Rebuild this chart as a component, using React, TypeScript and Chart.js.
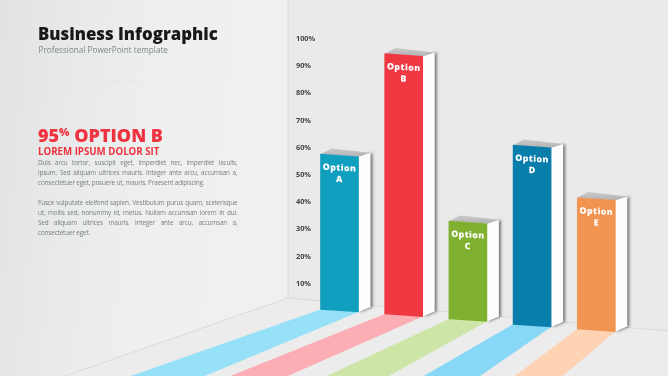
import React, { useEffect, useRef } from "react";
import { Chart, BarController, BarElement, CategoryScale, LinearScale } from "chart.js";

const categories = ["Option A", "Option B", "Option C", "Option D", "Option E"];
const topValues = [57.6, 94.5, 33, 60.9, 41.6];
const baseValues = [0.6, -1.1, -2.9, -4.9, -6.6];
const barColors = ["#119fc0", "#ef3842", "#7fb02f", "#0a7eab", "#f29451"];
const stripeColors = ["#96e1f7", "#fdaeb4", "#cde6a8", "#87d7f7", "#fdd3b4"];
const stripeSlants = [[2.85, 2.4], [2.49, 2.27], [2.14, 1.8], [1.73, 1.45], [1.33, 1.18]];
const firstParagraph = [
  "Duis arcu tortor, suscipit eget, imperdiet nec, imperdiet iaculis,",
  "ipsum. Sed aliquam ultrices mauris. Integer ante arcu, accumsan a,",
  "consectetuer eget, posuere ut, mauris. Praesent adipiscing.",
];
const secondParagraph = [
  "Fusce vulputate eleifend sapien. Vestibulum purus quam, scelerisque",
  "ut, mollis sed, nonummy id, metus. Nullam accumsan lorem in dui.",
  "Sed aliquam ultrices mauris. Integer ante arcu, accumsan a,",
  "consectetuer eget.",
];

const SKEW = 0.068;
const FONT = '"Open Sans", sans-serif';

class SkewBarElement extends BarElement {
  static id = "skewBarElement";
  draw(ctx: CanvasRenderingContext2D) {
    const left = (this as any).x - (this as any).width / 2;
    ctx.save();
    ctx.transform(1, SKEW, 0, 1, 0, -SKEW * left);
    super.draw(ctx);
    ctx.restore();
  }
}

class SkewBarController extends BarController {
  static id = "skewBar";
  static defaults = { ...BarController.defaults, dataElementType: "skewBarElement" };
  static overrides = BarController.overrides;
}

Chart.register(CategoryScale, LinearScale, SkewBarElement, SkewBarController);

const roomPlugin = {
  id: "room",
  beforeDraw(chart: any) {
    const { ctx, width, height } = chart;
    const cornerX = 288;
    const cornerY = 298;
    ctx.save();
    ctx.fillStyle = "#eaeaea";
    ctx.fillRect(0, 0, width, height);
    const wall = ctx.createLinearGradient(0, 0, cornerX, 30);
    wall.addColorStop(0, "#e0e2e3");
    wall.addColorStop(0.3, "#e9ebeb");
    wall.addColorStop(0.6, "#eeefef");
    wall.addColorStop(1, "#eff0f0");
    ctx.fillStyle = wall;
    ctx.fillRect(0, 0, cornerX, height);
    ctx.fillStyle = "#ececec";
    ctx.beginPath();
    ctx.moveTo(cornerX, cornerY);
    ctx.lineTo(width, 331);
    ctx.lineTo(width, height);
    ctx.lineTo(65, height);
    ctx.closePath();
    ctx.fill();
    ctx.strokeStyle = "#d9d9d9";
    ctx.lineWidth = 1;
    ctx.beginPath();
    ctx.moveTo(cornerX, 0);
    ctx.lineTo(cornerX, cornerY);
    ctx.moveTo(65, height);
    ctx.lineTo(cornerX, cornerY);
    ctx.lineTo(width, 331);
    ctx.stroke();
    ctx.restore();
  },
};

const depthPlugin = {
  id: "depth",
  beforeDatasetsDraw(chart: any) {
    const { ctx, height } = chart;
    chart.getDatasetMeta(0).data.forEach((bar: any, i: number) => {
      const L = bar.x - bar.width / 2;
      const R = bar.x + bar.width / 2;
      const T = bar.y;
      const B = bar.base;
      const drop = SKEW * bar.width;
      ctx.save();
      ctx.fillStyle = stripeColors[i];
      ctx.beginPath();
      ctx.moveTo(L, B);
      ctx.lineTo(R, B + drop);
      ctx.lineTo(R - stripeSlants[i][1] * (height - B - drop), height);
      ctx.lineTo(L - stripeSlants[i][0] * (height - B), height);
      ctx.closePath();
      ctx.fill();

      const side = () => {
        ctx.beginPath();
        ctx.moveTo(R, T + drop);
        ctx.lineTo(R + 12, T - 1.3);
        ctx.lineTo(R + 12, B + drop - 5);
        ctx.lineTo(R, B + drop);
        ctx.closePath();
      };
      ctx.save();
      ctx.shadowColor = "rgba(0,0,0,0.5)";
      ctx.shadowBlur = 3;
      ctx.shadowOffsetX = 2;
      ctx.fillStyle = "#fdfdfd";
      side();
      ctx.fill();
      ctx.restore();

      const topFace = ctx.createLinearGradient(0, T - 6, 0, T + 2);
      topFace.addColorStop(0, "#cbcbcb");
      topFace.addColorStop(1, "#b4b4b4");
      ctx.fillStyle = topFace;
      ctx.beginPath();
      ctx.moveTo(L, T);
      ctx.lineTo(L + 11, T - 5.7);
      ctx.lineTo(R + 12, T - 1.3);
      ctx.lineTo(R, T + drop);
      ctx.closePath();
      ctx.fill();
      ctx.restore();
    });
  },
  afterDatasetsDraw(chart: any) {
    const { ctx } = chart;
    chart.getDatasetMeta(0).data.forEach((bar: any, i: number) => {
      const [word, letter] = categories[i].split(" ");
      ctx.save();
      ctx.translate(bar.x, bar.y);
      ctx.transform(1, 0.05, 0, 1, 0, 0);
      ctx.fillStyle = "#ffffff";
      ctx.font = `800 8.8px ${FONT}`;
      ctx.textAlign = "center";
      ctx.textBaseline = "middle";
      (ctx as any).letterSpacing = "0.4px";
      ctx.fillText(word, 0, 14);
      ctx.fillText(letter, 0, 25.5);
      ctx.restore();
    });
  },
};

const textBase: React.CSSProperties = { position: "absolute", fontFamily: FONT, whiteSpace: "nowrap", margin: 0 };

const bodyLine = (text: string, top: number, justify: boolean) => (
  <div
    key={text}
    style={{
      ...textBase,
      left: 38,
      top,
      width: 199.5,
      fontSize: 6.4,
      letterSpacing: "-0.16px",
      lineHeight: "10px",
      color: "#7a7d80",
      whiteSpace: justify ? "normal" : "nowrap",
      textAlign: "justify",
      textAlignLast: justify ? "justify" : "left",
    }}
  >
    {text}
  </div>
);

export default function App() {
  const ref = useRef<HTMLCanvasElement>(null);
  useEffect(() => {
    const chart = new Chart(ref.current!, {
      type: "skewBar" as any,
      data: {
        labels: categories,
        datasets: [
          {
            data: topValues.map((v, i) => [baseValues[i], v]),
            backgroundColor: barColors,
            barThickness: 38,
            borderWidth: 0,
          },
        ],
      } as any,
      options: {
        responsive: false,
        animation: false,
        layout: { padding: { left: 307.4, right: 39.6, top: 38.7, bottom: 43.2 } },
        plugins: { legend: { display: false }, tooltip: { enabled: false } },
        scales: {
          x: { type: "category", display: false, offset: true, grid: { display: false } },
          y: {
            type: "linear",
            min: -8,
            max: 100,
            grid: { display: false },
            border: { display: false },
            ticks: {
              stepSize: 10,
              autoSkip: false,
              includeBounds: false,
              mirror: true,
              padding: -6.5,
              color: "#444444",
              font: { family: FONT, size: 7.4, weight: 700 },
              callback: (v: any) => (Number(v) > 0 ? `${v}%` : ""),
            },
          },
        },
      } as any,
      plugins: [roomPlugin, depthPlugin],
    });
    return () => chart.destroy();
  }, []);

  return (
    <div style={{ position: "fixed", left: 0, top: 0, width: 668, height: 376, overflow: "hidden" }}>
      <canvas ref={ref} width={668} height={376} style={{ display: "block" }} />
      <div style={{ ...textBase, left: 38, top: 21, fontSize: 16.8, lineHeight: "26px", fontWeight: 800, color: "#17181a" }}>
        Business Infographic
      </div>
      <div style={{ ...textBase, left: 38.5, top: 43, fontSize: 8.2, lineHeight: "14px", color: "#808488" }}>
        Professional PowerPoint template
      </div>
      <div style={{ ...textBase, left: 78, top: 76, fontSize: 5.6, lineHeight: "10px", color: "#e6e8e8" }}>
        http://www.ypppt.com/
      </div>
      <div style={{ ...textBase, left: 38, top: 121, fontSize: 18, lineHeight: "28px", fontWeight: 800, color: "#ef3340" }}>
        95<span style={{ fontSize: 11, verticalAlign: "6px", lineHeight: 0 }}>%</span> OPTION B
      </div>
      <div style={{ ...textBase, left: 38, top: 144, fontSize: 9.7, lineHeight: "16px", fontWeight: 700, color: "#ef3340" }}>
        LOREM IPSUM DOLOR SIT
      </div>
      {firstParagraph.map((t, i) => bodyLine(t, 158 + i * 10, i < firstParagraph.length - 1))}
      {secondParagraph.map((t, i) => bodyLine(t, 198 + i * 10, i < secondParagraph.length - 1))}
    </div>
  );
}
